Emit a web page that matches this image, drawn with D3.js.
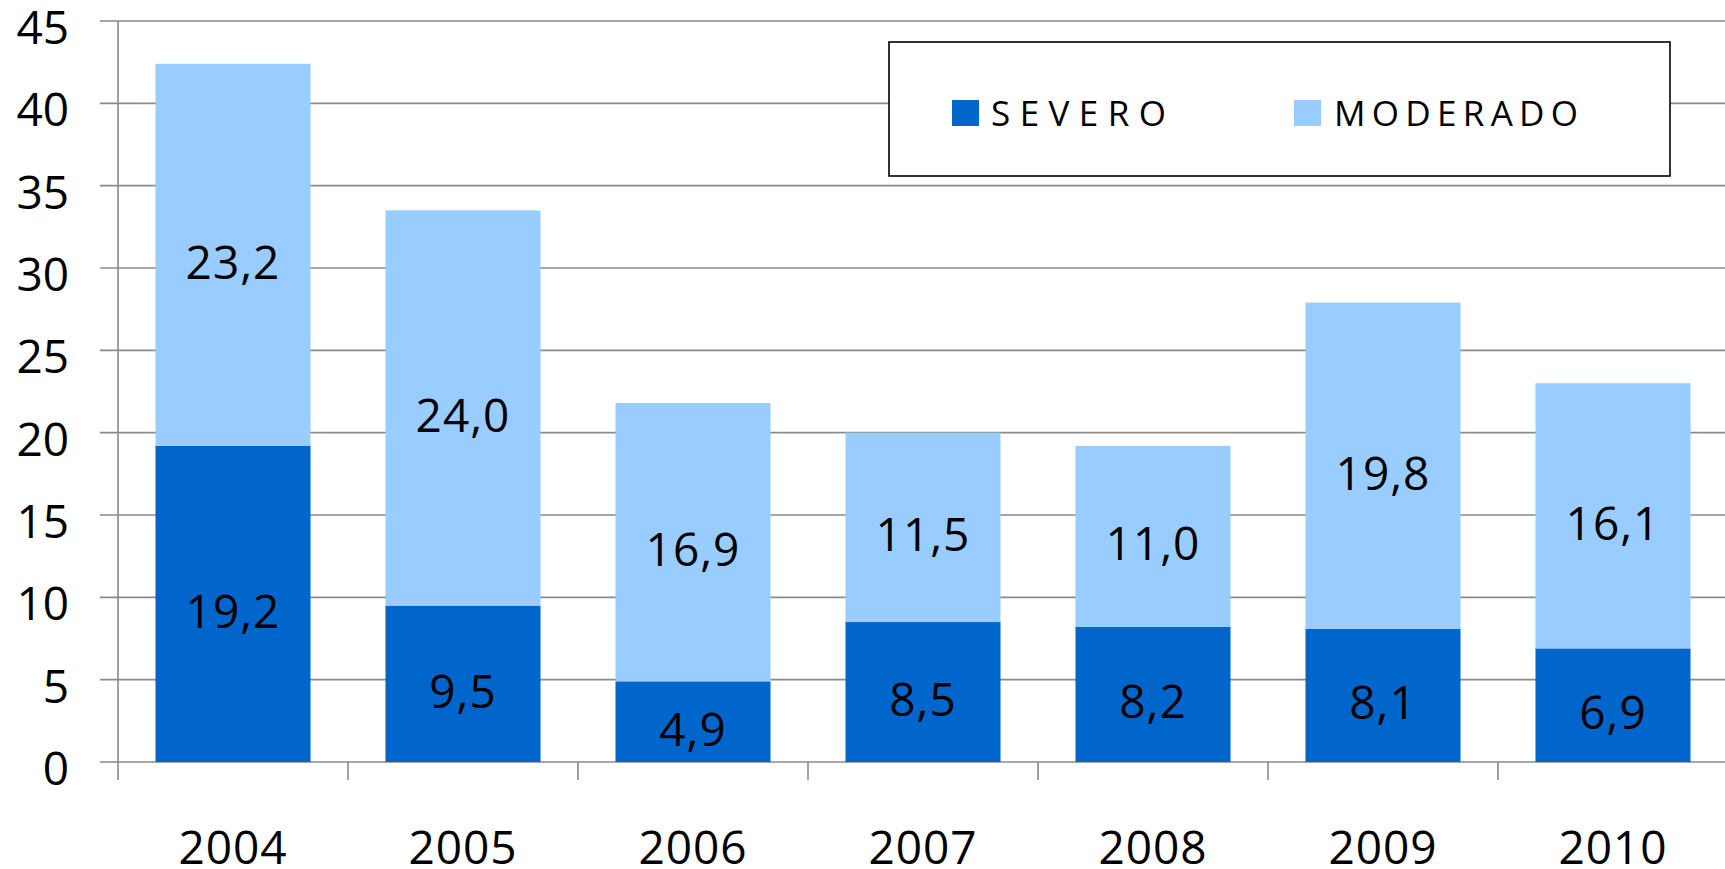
<!DOCTYPE html>
<html><head><meta charset="utf-8">
<script src="https://cdn.jsdelivr.net/npm/d3@7"></script>
<style>html,body{margin:0;padding:0;background:#fff;overflow:hidden}</style>
</head><body>
<svg id="c" width="1725" height="869"></svg>
<script>
const categories = ["2004","2005","2006","2007","2008","2009","2010"];
const severo = [19.2, 9.5, 4.9, 8.5, 8.2, 8.1, 6.9];
const moderado = [23.2, 24.0, 16.9, 11.5, 11.0, 19.8, 16.1];
const seriesNames = ["SEVERO","MODERADO"];
const yTicks = [0,5,10,15,20,25,30,35,40,45];
const colors = ["#0066CC","#99CCFF"];

const svg = d3.select("#c");
const font = "'Open Sans', sans-serif";
const x = d3.scaleBand().domain(categories).range([118, 1728]).paddingInner(0.326).paddingOuter(0.163);
const y = d3.scaleLinear().domain([0,45]).range([762, 21]);
const fmt = v => v.toFixed(1).replace(".", ",");

// gridlines
svg.append("g").selectAll("line").data(yTicks).join("line")
  .attr("x1", 100).attr("x2", 1725)
  .attr("y1", d => y(d)).attr("y2", d => y(d))
  .attr("stroke", "#8a8a8a").attr("stroke-width", 1.6);

// y axis line
svg.append("line").attr("x1",118).attr("x2",118).attr("y1",y(45)).attr("y2",780)
  .attr("stroke","#8a8a8a").attr("stroke-width",1.6);

// x ticks
svg.append("g").selectAll("line").data(categories.slice(1)).join("line")
  .attr("x1", d => x(d) - (x.step()-x.bandwidth())/2)
  .attr("x2", d => x(d) - (x.step()-x.bandwidth())/2)
  .attr("y1", 762).attr("y2", 780)
  .attr("stroke","#8a8a8a").attr("stroke-width",1.6);

// y labels
svg.append("g").selectAll("text").data(yTicks).join("text")
  .attr("x", 69).attr("y", d => y(d) + 23)
  .attr("text-anchor","end").attr("font-family",font).attr("font-size",46).attr("fill","#000")
  .text(d => d);

// x labels
svg.append("g").selectAll("text").data(categories).join("text")
  .attr("x", d => x(d) + x.bandwidth()/2).attr("y", 864)
  .attr("text-anchor","middle").attr("font-family",font).attr("font-size",46).attr("fill","#000")
  .attr("letter-spacing", 1)
  .text(d => d);

// stacked bars
const rows = categories.map((c,i) => ({cat:c, SEVERO: severo[i], MODERADO: moderado[i]}));
const stack = d3.stack().keys(seriesNames)(rows);
stack.forEach((s, si) => {
  const g = svg.append("g");
  g.selectAll("rect").data(s).join("rect")
    .attr("x", d => x(d.data.cat)).attr("width", x.bandwidth())
    .attr("y", d => y(d[1])).attr("height", d => y(d[0]) - y(d[1]))
    .attr("fill", colors[si]);
  g.selectAll("text").data(s).join("text")
    .attr("x", d => x(d.data.cat) + x.bandwidth()/2)
    .attr("y", d => (y(d[0]) + y(d[1]))/2 + 24)
    .attr("text-anchor","middle").attr("font-family",font).attr("font-size",46).attr("fill","#000")
    .attr("letter-spacing", 1)
    .text(d => fmt(d[1]-d[0]));
});

// legend
const lg = svg.append("g");
lg.append("rect").attr("x",889).attr("y",42).attr("width",781).attr("height",134)
  .attr("fill","#fff").attr("stroke","#000").attr("stroke-width",1.6);
const legendItems = [
  {name: seriesNames[0], sx: 952, tx: 991, tw: 175},
  {name: seriesNames[1], sx: 1294, tx: 1334, tw: 244}
];
legendItems.forEach((it, i) => {
  lg.append("rect").attr("x", it.sx).attr("y", 100).attr("width", 27).attr("height", 26).attr("fill", colors[i]);
  lg.append("text").attr("x", it.tx).attr("y", 126)
    .attr("font-family",font).attr("font-size",35).attr("fill","#000")
    .attr("textLength", it.tw).attr("lengthAdjust","spacing")
    .text(it.name);
});
</script>
</body></html>
